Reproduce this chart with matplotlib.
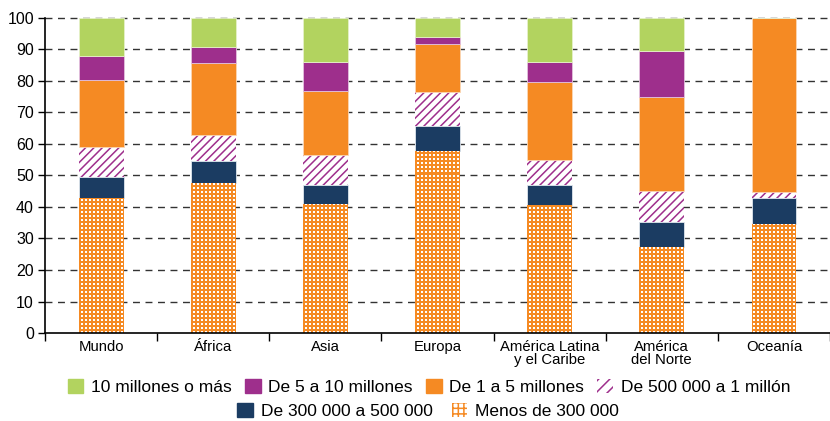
import matplotlib
matplotlib.use("Agg")
import matplotlib.pyplot as plt
import numpy as np
from matplotlib.patches import Patch
from matplotlib.path import Path
from matplotlib.colors import to_rgb

plt.rcParams['font.family'] = ['Liberation Sans', 'DejaVu Sans']
plt.rcParams['hatch.linewidth'] = 1.1

categories = ["Mundo", "África", "Asia", "Europa", "América Latina\ny el Caribe",
              "América\ndel Norte", "Oceanía"]
series_names = ["Menos de 300 000", "De 300 000 a 500 000", "De 500 000 a 1 millón",
                "De 1 a 5 millones", "De 5 a 10 millones", "10 millones o más"]
menos_300k = [42.8, 47.5, 41.0, 57.9, 40.6, 27.3, 34.7]
de_300k_500k = [6.8, 7.1, 5.9, 7.9, 6.3, 7.9, 8.0]
de_500k_1m = [9.4, 8.4, 9.6, 10.7, 8.0, 9.9, 2.1]
de_1m_5m = [21.3, 22.6, 20.4, 15.3, 24.9, 29.9, 55.2]
de_5m_10m = [7.7, 5.1, 9.2, 2.2, 6.3, 14.6, 0.0]
mas_10m = [12.0, 9.3, 13.9, 6.0, 13.9, 10.4, 0.0]

green = "#B2D35F"
purple = "#9E2F8C"
orange = "#F58A23"
navy = "#1B3C62"

series = [menos_300k, de_300k_500k, de_500k_1m, de_1m_5m, de_5m_10m, mas_10m]
styles = [
    dict(facecolor="white", edgecolor="none", linewidth=0),
    dict(facecolor=navy, edgecolor="#dfe6ee", linewidth=0.6),
    dict(facecolor="white", edgecolor=purple, hatch="////", linewidth=0),
    dict(facecolor=orange, edgecolor="#fbd7b4", linewidth=0.6),
    dict(facecolor=purple, edgecolor="#e3c2dd", linewidth=0.6),
    dict(facecolor=green, edgecolor="#e6f1c9", linewidth=0.6),
]

W_PX, H_PX = 785, 315
fig = plt.figure(figsize=(8.30, 4.21), dpi=100)
ax = fig.add_axes([45/830, 88/421, W_PX/830, H_PX/421])

x = np.arange(len(categories))
xlim = (-0.5, len(categories) - 0.5)
ylim = (0, 100)
bottom = np.zeros(len(categories))
containers = []
for vals, st in zip(series, styles):
    vals = np.array(vals)
    containers.append(ax.bar(x, vals, width=0.4, bottom=bottom, zorder=2, **st))
    bottom += vals

# Dotted texture (orange grid with white dots) clipped to the "Menos de 300 000" bars
yy, xx = np.mgrid[0:H_PX, 0:W_PX]
white_mask = ((xx % 4) < 2) & ((yy % 4) < 2)
tex = np.empty((H_PX, W_PX, 3))
tex[:] = to_rgb(orange)
tex[white_mask] = (1.0, 1.0, 1.0)
im = ax.imshow(tex, extent=(xlim[0], xlim[1], ylim[0], ylim[1]), origin='lower',
               interpolation='nearest', aspect='auto', zorder=2.5)
paths = [b.get_patch_transform().transform_path(b.get_path()) for b in containers[0]]
im.set_clip_path(Path.make_compound_path(*paths), ax.transData)

ax.set_xlim(*xlim)
ax.set_ylim(*ylim)
ax.set_yticks(np.arange(0, 101, 10))
ax.tick_params(axis='y', length=5, width=1, labelsize=11.5, pad=3, colors='black')
ax.set_xticks(x)
ax.set_xticklabels(categories, fontsize=10.7, linespacing=0.95)
ax.tick_params(axis='x', which='major', length=0, pad=5)
ax.set_xticks(np.arange(-0.5, len(categories)), minor=True)
ax.tick_params(axis='x', which='minor', length=6, width=1)

for s in ['top', 'right']:
    ax.spines[s].set_visible(False)
for s in ['left', 'bottom']:
    ax.spines[s].set_linewidth(1.2)

for yv in range(10, 101, 10):
    ax.axhline(yv, color='#333333', linestyle=(0, (5, 4)), linewidth=1.0, zorder=1, clip_on=False)

# Legend rows
row1 = [
    Patch(facecolor=green, edgecolor=green, label="10 millones o más"),
    Patch(facecolor=purple, edgecolor=purple, label="De 5 a 10 millones"),
    Patch(facecolor=orange, edgecolor=orange, label="De 1 a 5 millones"),
    Patch(facecolor="white", edgecolor=purple, hatch="///", linewidth=0, label="De 500 000 a 1 millón"),
]
row2 = [
    Patch(facecolor=navy, edgecolor=navy, label="De 300 000 a 500 000"),
    Patch(facecolor="white", edgecolor=orange, hatch="+++", linewidth=0, label="Menos de 300 000"),
]
kw = dict(frameon=False, fontsize=12.5, handlelength=0.9, handleheight=0.9,
          handletextpad=0.45, borderaxespad=0, borderpad=0)
leg1 = fig.legend(handles=row1, ncol=4, loc='center', columnspacing=0.75,
                  bbox_to_anchor=(429/830, 1 - 387/421), **kw)
leg2 = fig.legend(handles=row2, ncol=2, loc='center', columnspacing=1.1,
                  bbox_to_anchor=(428/830, 1 - 411/421), **kw)

fig.savefig("out.png", dpi=100)
